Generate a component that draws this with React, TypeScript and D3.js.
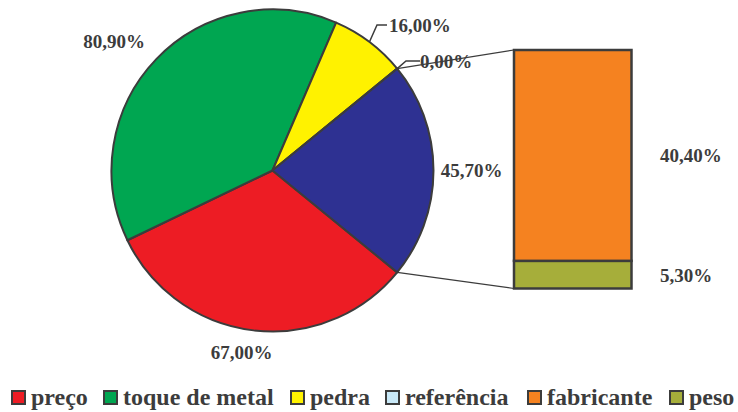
import React from "react";
import * as d3 from "d3";

// Pie slices (the last one, "outros", is expanded into the stacked bar)
const pieCategories = ["preço", "toque de metal", "pedra", "referência", "outros"];
const pieValues = [67.0, 80.9, 16.0, 0.0, 45.7];
const pieColors = ["#ED1C24", "#00A651", "#FFF200", "#C9E9F8", "#2E3192"];

// Breakdown of "outros" shown in the bar (bottom to top)
const barCategories = ["peso", "fabricante"];
const barValues = [5.3, 40.4];
const barColors = ["#A6AE3A", "#F58220"];

// Legend entries
const legendLabels = ["preço", "toque de metal", "pedra", "referência", "fabricante", "peso"];
const legendColors = ["#ED1C24", "#00A651", "#FFF200", "#C9E9F8", "#F58220", "#A6AE3A"];

const fmt = (v: number) => v.toFixed(2).replace(".", ",") + "%";

const W = 738;
const H = 412;
const cx = 272.5;
const cy = 170.5;
const R = 161;
const barX0 = 514;
const barX1 = 631.5;
const barTop = 50;
const barBottom = 288.5;
const ink = "#3C3C3C";
const font = "Liberation Serif";

export default function App() {
  const total = d3.sum(pieValues);
  const otherIdx = pieValues.length - 1;
  const half = (pieValues[otherIdx] / total) * Math.PI;
  // Start so the expanded slice ends up centred on 3 o'clock
  const start = Math.PI / 2 + half;
  const pie = d3
    .pie<number>()
    .sort(null)
    .value((d) => d)
    .startAngle(start)
    .endAngle(start + 2 * Math.PI);
  const arcs = pie(pieValues);
  const arc = d3.arc<d3.PieArcDatum<number>>().innerRadius(0).outerRadius(R);

  const pt = (a: number, r: number): [number, number] => [
    cx + r * Math.sin(a),
    cy - r * Math.cos(a),
  ];

  // stacked bar scale
  const barTotal = d3.sum(barValues);
  const y = d3.scaleLinear().domain([0, barTotal]).range([barBottom, barTop]);
  let acc = 0;
  const stacks = barValues.map((v, i) => {
    const s = { y0: acc, y1: acc + v, v, i };
    acc += v;
    return s;
  });

  const other = arcs[otherIdx];
  const cTop = pt(other.startAngle, R);
  const cBot = pt(other.endAngle, R);

  // label anchors for the pie slices
  const labelPos: Record<string, [number, number, string]> = {
    "preço": [241.5, 359, "middle"],
    "toque de metal": [114, 47.5, "middle"],
    "pedra": [389, 32, "start"],
    "referência": [420, 68, "start"],
    "outros": [471.5, 177, "middle"],
  };

  const pedraMid = (arcs[2].startAngle + arcs[2].endAngle) / 2;
  const refMid = (arcs[3].startAngle + arcs[3].endAngle) / 2;
  const pA = pt(pedraMid, R);
  const rA = pt(refMid, R);

  const legendX = [12, 104, 291, 386, 528, 670];

  return (
    <svg width={W} height={H} style={{ position: "absolute", left: 0, top: 0 }}>
      <rect width={W} height={H} fill="#fff" />
      <g transform={`translate(${cx},${cy})`}>
        {arcs.map((a, i) => (
          <path
            key={pieCategories[i]}
            d={arc(a) || ""}
            fill={pieColors[i]}
            stroke={ink}
            strokeWidth={2}
            strokeLinejoin="round"
          />
        ))}
      </g>
      {/* connectors from the expanded slice to the bar */}
      <line x1={cTop[0]} y1={cTop[1]} x2={barX0} y2={barTop} stroke={ink} strokeWidth={1.2} />
      <line x1={cBot[0]} y1={cBot[1]} x2={barX0} y2={barBottom} stroke={ink} strokeWidth={1.2} />
      <g>
        {stacks.map((s) => (
          <rect
            key={barCategories[s.i]}
            x={barX0}
            width={barX1 - barX0}
            y={y(s.y1)}
            height={y(s.y0) - y(s.y1)}
            fill={barColors[s.i]}
            stroke={ink}
            strokeWidth={2.5}
          />
        ))}
      </g>
      {/* leader lines */}
      <polyline
        points={`${pA[0]},${pA[1]} 377,25 387,25`}
        fill="none"
        stroke={ink}
        strokeWidth={1.5}
      />
      <polyline
        points={`${rA[0]},${rA[1]} 406,61 420,61`}
        fill="none"
        stroke={ink}
        strokeWidth={1.5}
      />
      <g fontFamily={font} fontWeight="bold" fontSize={19} fill={ink}>
        {arcs.map((a, i) => {
          const [x, yy, anchor] = labelPos[pieCategories[i]];
          return (
            <text key={pieCategories[i]} x={x} y={yy} textAnchor={anchor as any}>
              {fmt(pieValues[i])}
            </text>
          );
        })}
        {stacks.map((s) => (
          <text key={barCategories[s.i]} x={660} y={(y(s.y0) + y(s.y1)) / 2 + 7}>
            {fmt(s.v)}
          </text>
        ))}
      </g>
      <g fontFamily={font} fontWeight="bold" fontSize={24} fill={ink}>
        {legendLabels.map((l, i) => (
          <g key={l} transform={`translate(${legendX[i]},391)`}>
            <rect x={0} y={0} width={13} height={13} fill={legendColors[i]} stroke={ink} strokeWidth={2} />
            <text x={19} y={14}>
              {l}
            </text>
          </g>
        ))}
      </g>
    </svg>
  );
}
